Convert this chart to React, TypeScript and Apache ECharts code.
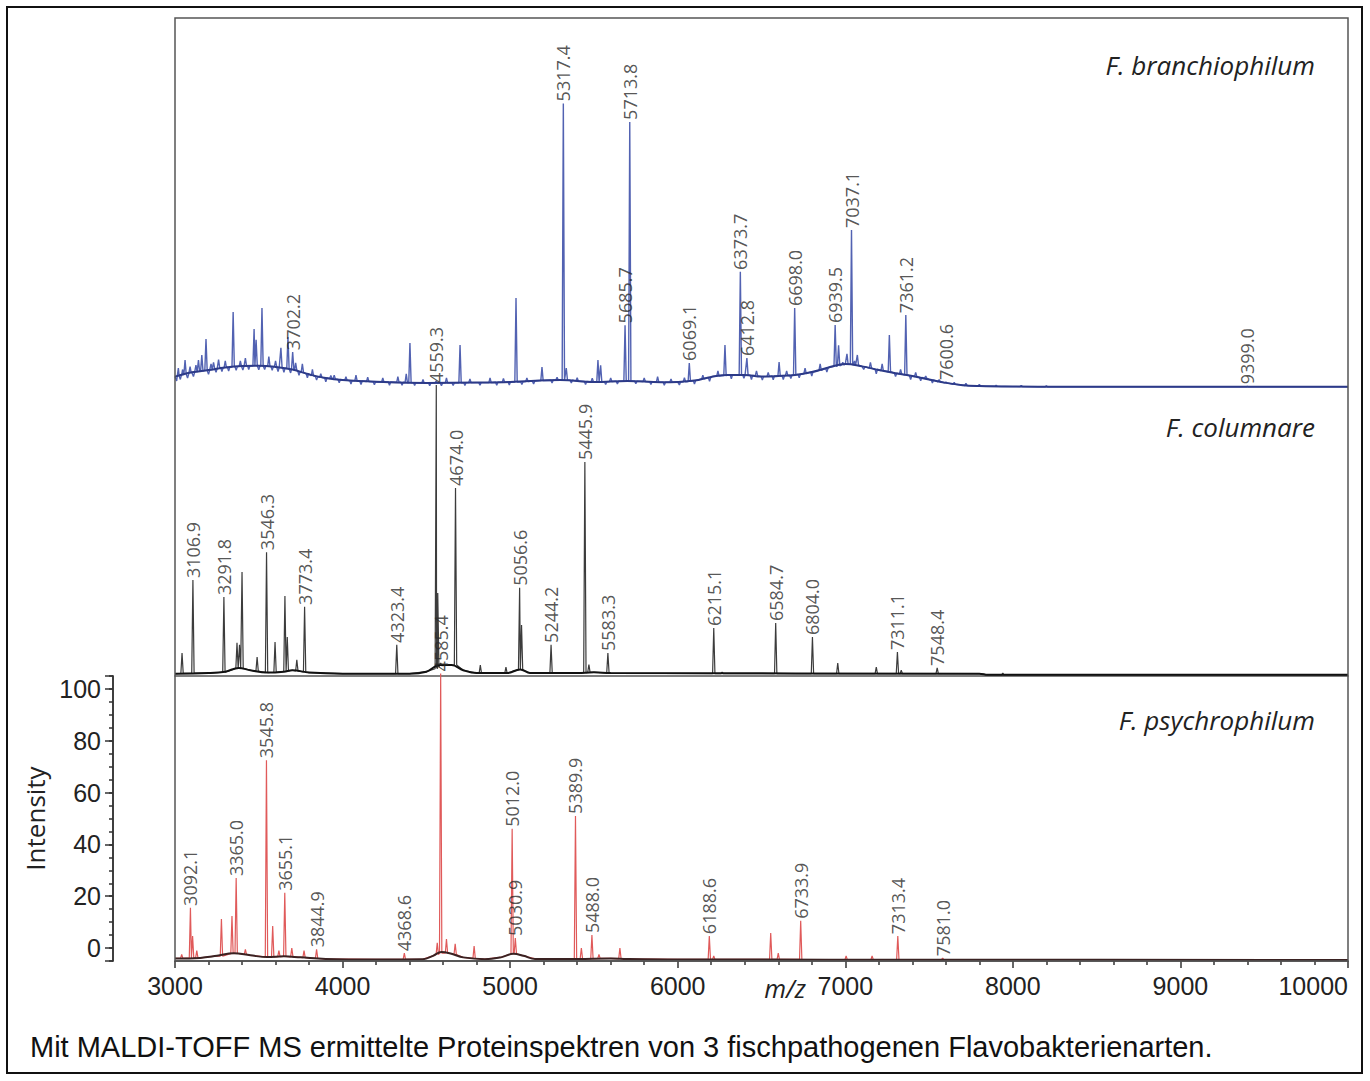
import React, { useEffect, useRef } from "react";
import * as echarts from "echarts";

const X_MIN = 3000;
const X_MAX = 10000;
const X_INTERVAL = 1000;
const Y_TICK_LABELS = [0, 20, 40, 60, 80, 100];
const Y_MAJOR_TICKS = [-5, 0, 20, 40, 60, 80, 100, 105];

const SPECIES = ["F. branchiophilum", "F. columnare", "F. psychrophilum"];
const CAPTION =
  "Mit MALDI-TOFF MS ermittelte Proteinspektren von 3 fischpathogenen Flavobakterienarten.";

// ---------- F. branchiophilum (top, blue) ----------
// smoothed baseline [m/z, level]
const BRANCH_BASE: [number, number][] = [
  [3000, 4.0], [3100, 5.5], [3200, 6.3], [3300, 7.2], [3400, 7.7], [3500, 7.8],
  [3600, 7.4], [3700, 6.5], [3800, 4.8], [3900, 3.5], [4000, 2.8], [4200, 2.2],
  [4500, 1.8], [4800, 1.9], [5000, 2.1], [5300, 2.8], [5500, 2.1], [5700, 2.5],
  [5900, 2.0], [6000, 2.1], [6100, 2.6], [6200, 3.9], [6300, 4.6], [6400, 4.6],
  [6500, 4.0], [6600, 4.2], [6700, 4.6], [6800, 5.6], [6900, 7.2], [7000, 8.4],
  [7100, 7.6], [7200, 6.3], [7300, 5.2], [7400, 4.2], [7500, 3.0], [7600, 1.8],
  [7700, 1.0], [7800, 0.7], [8000, 0.5], [8300, 0.4], [10000, 0.4],
];
// peaks and dips of the raw trace [m/z, top, foot]
const BRANCH_PEAKS: [number, number, number][] = [
  [3010, 2.5, 4], [3020, 7, 4], [3032, 3, 4.2], [3045, 6.5, 4.5], [3060, 9.8, 4.8], [3075, 3.5, 5],
  [3090, 7.5, 5.2], [3110, 4, 5.5], [3125, 8, 5.6], [3140, 9.8, 5.8], [3160, 11.6, 6],
  [3185, 17.2, 6.2], [3200, 4.8, 6.3], [3215, 8.5, 6.5], [3230, 9, 6.8], [3245, 5.5, 6.9],
  [3260, 10, 7], [3280, 5.8, 7.1], [3300, 9.5, 7.2], [3320, 6, 7.3], [3347, 26.7, 7.4],
  [3365, 6.2, 7.5], [3390, 9.5, 7.6], [3405, 6.3, 7.7], [3420, 10.5, 7.7], [3440, 6.5, 7.8],
  [3472, 20.7, 7.8], [3484, 16.9, 7.8], [3500, 6.4, 7.8], [3519, 28.1, 7.8], [3535, 6.5, 7.7],
  [3560, 11, 7.6], [3580, 6.2, 7.5], [3600, 9.5, 7.4], [3615, 5.8, 7.3], [3632, 14.1, 7.2],
  [3650, 5.5, 7], [3674, 17.9, 6.8], [3690, 5.3, 6.7], [3702.2, 12.6, 6.6], [3720, 8.8, 6.2],
  [3740, 4.5, 5.9], [3760, 8.5, 5.5], [3790, 3.6, 5], [3820, 6.5, 4.3], [3845, 2.8, 4],
  [3870, 5, 3.7], [3900, 2.2, 3.5], [3930, 4.4, 3.3], [3950, 4.5, 3.2], [3980, 1.8, 3],
  [4020, 4, 2.7], [4050, 1.4, 2.6], [4080, 4.5, 2.5], [4110, 1.2, 2.4], [4150, 3.8, 2.3],
  [4190, 1.1, 2.2], [4240, 3.5, 2.1], [4280, 1, 2.1], [4330, 4, 2], [4355, 1, 2],
  [4380, 5, 1.9], [4402, 15.8, 1.9], [4430, 0.9, 1.9], [4480, 3, 1.8], [4520, 0.8, 1.8],
  [4559, 2.5, 1.8], [4590, 0.8, 1.8], [4620, 3.5, 1.8], [4660, 0.9, 1.8], [4701, 15.1, 1.8],
  [4730, 0.9, 1.9], [4760, 3.2, 1.9], [4820, 1, 1.9], [4880, 3.5, 1.9], [4920, 1, 2],
  [4960, 3.4, 2], [4995, 1.1, 2.1], [5035, 31.6, 2.1], [5070, 1.2, 2.2], [5100, 3.5, 2.3],
  [5140, 1.4, 2.4], [5190, 7.4, 2.6], [5250, 1.8, 2.7], [5280, 3.8, 2.8], [5317.4, 100, 2.8],
  [5335, 7, 2.8], [5365, 1.8, 2.7], [5400, 3.6, 2.5], [5450, 1.2, 2.3], [5490, 3.4, 2.2],
  [5524, 9.8, 2.2], [5540, 8, 2.2], [5570, 1.2, 2.2], [5600, 3.5, 2.3], [5640, 1.4, 2.4],
  [5685.7, 22, 2.5], [5713.8, 93.5, 2.5], [5750, 1.5, 2.4], [5800, 3.5, 2.3], [5840, 1.2, 2.2],
  [5880, 4, 2.1], [5920, 1, 2], [5960, 3.2, 2.0], [6010, 1.1, 2.1], [6040, 3.6, 2.2],
  [6069.1, 8.8, 2.3], [6100, 1.4, 2.6], [6150, 4.5, 3.2], [6190, 2.4, 3.7], [6240, 6, 4.2],
  [6282, 15.1, 4.4], [6320, 3.2, 4.6], [6373.7, 40.8, 4.6], [6395, 3.4, 4.6], [6412.8, 10.5, 4.6],
  [6440, 3, 4.4], [6470, 6, 4.3], [6505, 2.8, 4], [6540, 5.5, 4.1], [6570, 2.9, 4.2],
  [6605, 9.1, 4.2], [6630, 3, 4.3], [6650, 6, 4.4], [6675, 3.3, 4.5], [6698.0, 28.1, 4.6],
  [6725, 3.6, 4.8], [6760, 7, 5.1], [6800, 4.2, 5.6], [6850, 8.5, 6.2], [6890, 5.6, 6.9],
  [6939.5, 22.1, 7.6], [6960, 15, 7.8], [6985, 9, 8.1], [7010, 12, 8.3], [7037.1, 55.5, 8.3],
  [7055, 9.5, 8.1], [7072, 11.6, 8], [7110, 6.5, 7.5], [7150, 9, 7], [7185, 5, 6.6],
  [7220, 8.5, 6.1], [7263, 18.6, 5.7], [7300, 4, 5.2], [7330, 6.5, 4.9], [7361.2, 25.6, 4.6],
  [7390, 3, 4.3], [7420, 5.5, 4], [7450, 2.5, 3.7], [7480, 4.2, 3.4], [7520, 1.8, 2.8],
  [7560, 3, 2.2], [7600.6, 2.1, 1.8], [7650, 2, 1.3], [7720, 1.6, 0.9], [7800, 1.3, 0.7],
  [7900, 1.0, 0.6], [8050, 0.9, 0.5], [8200, 0.8, 0.45], [9399.0, 0.6, 0.4],
];
const BRANCH_LABELS = [
  3702.2, 5317.4, 5685.7, 5713.8, 6069.1, 6373.7, 6412.8, 6698.0, 6939.5, 7037.1,
  7361.2, 7600.6, 9399.0,
];

// ---------- F. columnare (middle, black) ----------
const COLUM_BASE: [number, number][] = [
  [3000, 0.8], [3200, 1], [3300, 1.5], [3380, 2.8], [3450, 2], [3550, 1.2], [3650, 1.5],
  [3700, 2], [3800, 1.2], [4000, 0.8], [4400, 0.8], [4500, 1.5], [4580, 3.8], [4650, 3.8],
  [4720, 2], [4800, 1], [4980, 1], [5060, 2.3], [5120, 1], [5400, 1], [5500, 1.3],
  [5600, 1], [7800, 0.8], [7850, 0.4], [10000, 0.4],
];
const COLUM_PEAKS: [number, number, number][] = [
  [3042, 8, 0.9], [3106.9, 33.3, 1], [3291.8, 27.4, 1.3], [3370, 11.5, 2.6], [3385, 10.8, 2.8],
  [3400, 36.1, 2.7], [3490, 6.6, 1.7], [3546.3, 43, 1.2], [3597, 11.8, 1.3], [3656, 27.8, 1.6],
  [3670, 13.5, 1.8], [3727, 5.6, 1.8], [3773.4, 24, 1.4], [4323.4, 10.8, 0.8],
  [4559.3, 101, 2.5], [4568, 28.8, 3], [4585.4, 4.5, 3.6], [4674.0, 65.3, 3.8], [4822, 3.8, 1],
  [4975, 3.1, 1], [5056.6, 30.6, 2.2], [5068, 17.7, 2.2], [5244.2, 10.8, 1], [5445.9, 74.3, 1.2],
  [5470, 4, 1.3], [5583.3, 8, 1.1], [6215.1, 16.7, 0.8], [6265, 1.4, 0.8], [6584.7, 18.4, 0.8],
  [6804.0, 13.5, 0.8], [6955, 4.5, 0.8], [7185, 3.1, 0.8], [7311.1, 8.3, 0.8], [7334, 2, 0.8],
  [7548.4, 2.8, 0.8], [7940, 1, 0.4],
];
const COLUM_LABELS = [
  3106.9, 3291.8, 3546.3, 3773.4, 4323.4, 4559.3, 4674.0, 5056.6, 5244.2, 5445.9, 5583.3,
  6215.1, 6584.7, 6804.0, 7311.1, 7548.4,
];

// ---------- F. psychrophilum (bottom, red) ----------
const PSYCH_BASE: [number, number][] = [
  [3000, -4], [3150, -3.8], [3250, -3], [3350, -2], [3450, -2.8], [3550, -3.5], [3650, -3.2],
  [3750, -3.6], [3900, -4.2], [4200, -4.4], [4480, -4.3], [4540, -3], [4590, -1.5],
  [4650, -2.2], [4720, -3.6], [4850, -4.3], [4950, -3.5], [5020, -2.2], [5080, -3],
  [5150, -4.2], [5400, -4.2], [5600, -4], [5700, -4.2], [6000, -4.4], [7800, -4.5],
  [10000, -4.6],
];
const PSYCH_PEAKS: [number, number, number][] = [
  [3040, -2.5, -4], [3092.1, 15.5, -3.8], [3105, 4.6, -3.8], [3130, -1, -3.8], [3277, 11.2, -3.1],
  [3340, 12.4, -2.2], [3365.0, 27, -2], [3420, -0.5, -2.5], [3545.8, 72.5, -3.4], [3583, 8.5, -3.4],
  [3620, -1, -3.3], [3655.1, 21.3, -3.2], [3697, 0, -3.4], [3770, -1, -3.7], [3844.9, -0.5, -4],
  [4368.6, -2, -4.4], [4565, 2, -2.5], [4585.4, 106, -2], [4620, 3.5, -2], [4672, 1.6, -2.5],
  [4785, 0.8, -4], [5012.0, 46, -2.2], [5030.9, 3.9, -2.2], [5389.9, 51, -4.2], [5425, 0, -4.1],
  [5488.0, 5, -4.1], [5530, -2.5, -4], [5655, 0, -4.1], [6188.6, 4.6, -4.4], [6215, -3, -4.4],
  [6555, 5.8, -4.4], [6600, -2, -4.4], [6733.9, 10.5, -4.4], [7005, -3, -4.5], [7160, -3, -4.5],
  [7313.4, 4.6, -4.5], [7581.0, -3.9, -4.5],
];
const PSYCH_LABELS = [
  3092.1, 3365.0, 3545.8, 3655.1, 3844.9, 4368.6, 4585.4, 5012.0, 5030.9, 5389.9, 5488.0,
  6188.6, 6733.9, 7313.4, 7581.0,
];

const HALF_WIDTH = 7;

function buildTrace(base: [number, number][], peaks: [number, number, number][]) {
  const pts: [number, number][] = base.filter(
    (b) => !peaks.some((p) => Math.abs(p[0] - b[0]) <= HALF_WIDTH)
  );
  for (const [mz, top, foot] of peaks) {
    pts.push([mz - HALF_WIDTH, foot], [mz, top], [mz + HALF_WIDTH, foot]);
  }
  pts.sort((a, b) => a[0] - b[0]);
  return pts;
}

function labelPoints(labels: number[], peaks: [number, number, number][]) {
  return labels.map((mz) => {
    const p = peaks.find((q) => Math.abs(q[0] - mz) < 0.01);
    return [mz, p ? p[1] : 0];
  });
}

const LABEL_FONT = "'Open Sans', 'DejaVu Sans', sans-serif";
const AXIS_FONT = "'Liberation Sans', Arial, sans-serif";

function panelSeries(
  idx: number,
  base: [number, number][],
  peaks: [number, number, number][],
  labels: number[],
  rawColor: string,
  rawWidth: number,
  smoothColor: string
) {
  return [
    {
      type: "line",
      xAxisIndex: idx,
      yAxisIndex: idx,
      data: buildTrace(base, peaks),
      symbol: "none",
      clip: false,
      lineStyle: { color: rawColor, width: rawWidth },
      z: 2,
    },
    {
      type: "line",
      xAxisIndex: idx,
      yAxisIndex: idx,
      data: base,
      smooth: 0.4,
      symbol: "none",
      clip: false,
      lineStyle: { color: smoothColor, width: 2 },
      z: 3,
    },
    {
      type: "scatter",
      xAxisIndex: idx,
      yAxisIndex: idx,
      data: labelPoints(labels, peaks),
      symbolSize: 0,
      clip: false,
      z: 5,
      label: {
        show: true,
        position: "top",
        distance: 2,
        rotate: 90,
        align: "left",
        verticalAlign: "middle",
        fontFamily: LABEL_FONT,
        fontSize: 18,
        color: "#2a2a2a",
        formatter: (p: any) => Number(p.value[0]).toFixed(1),
      },
    },
  ];
}

export default function App() {
  const ref = useRef<HTMLDivElement>(null);
  useEffect(() => {
    document.body.style.margin = "0";
    const chart = echarts.init(ref.current!, undefined, { renderer: "svg" });
    const axisLineStyle = { color: "#333", width: 1.5 };
    const option: any = {
      animation: false,
      backgroundColor: "#ffffff",
      grid: [
        { left: 175, top: 18, width: 1173, height: 370 },
        { left: 175, top: 388, width: 1173, height: 288 },
        { left: 175, top: 676, width: 1173, height: 285 },
      ],
      xAxis: [
        { type: "value", gridIndex: 0, min: X_MIN, max: X_MAX, show: false },
        {
          type: "value",
          gridIndex: 1,
          min: X_MIN,
          max: X_MAX,
          axisLine: { show: true, onZero: false, lineStyle: { color: "#555", width: 1.5 } },
          axisTick: { show: false },
          axisLabel: { show: false },
          splitLine: { show: false },
        },
        {
          type: "value",
          gridIndex: 2,
          min: X_MIN,
          max: X_MAX,
          interval: X_INTERVAL,
          axisLine: { show: true, onZero: false, lineStyle: axisLineStyle },
          axisTick: { show: true, length: 7, lineStyle: axisLineStyle },
          minorTick: { show: true, splitNumber: 5, length: 4, lineStyle: axisLineStyle },
          axisLabel: {
            fontSize: 25,
            color: "#222",
            fontFamily: AXIS_FONT,
            margin: 12,
            alignMaxLabel: "right",
            formatter: (v: number) => String(v),
          },
          splitLine: { show: false },
          minorSplitLine: { show: false },
        },
      ],
      yAxis: [
        { type: "value", gridIndex: 0, min: 0, max: 130, show: false },
        { type: "value", gridIndex: 1, min: 0, max: 100, show: false },
        {
          type: "value",
          gridIndex: 2,
          min: -5,
          max: 105,
          interval: 5,
          position: "left",
          offset: 62,
          axisLine: { show: true, lineStyle: axisLineStyle },
          axisTick: { show: true, length: 4, lineStyle: axisLineStyle },
          axisLabel: { show: false },
          splitLine: { show: false },
        },
        {
          type: "value",
          gridIndex: 2,
          min: -5,
          max: 105,
          interval: 5,
          position: "left",
          offset: 62,
          axisLine: { show: true, lineStyle: axisLineStyle },
          axisTick: { show: true, length: 8, customValues: Y_MAJOR_TICKS, lineStyle: axisLineStyle },
          axisLabel: {
            customValues: Y_TICK_LABELS,
            fontSize: 25,
            color: "#222",
            fontFamily: AXIS_FONT,
            margin: 12,
          },
          splitLine: { show: false },
          name: "Intensity",
          nameLocation: "middle",
          nameGap: 58,
          nameRotate: 90,
          nameTextStyle: { fontSize: 26, color: "#222", fontFamily: LABEL_FONT },
        },
      ],
      series: [
        ...panelSeries(0, BRANCH_BASE, BRANCH_PEAKS, BRANCH_LABELS, "#5262b2", 1.4, "#2c3a88"),
        ...panelSeries(1, COLUM_BASE, COLUM_PEAKS, COLUM_LABELS, "#3c3c3c", 1.2, "#111111"),
        ...panelSeries(2, PSYCH_BASE, PSYCH_PEAKS, PSYCH_LABELS, "#e05a5a", 1.2, "#3a2222"),
      ],
      graphic: [
        {
          type: "rect",
          shape: { x: 7, y: 7, width: 1355, height: 1066 },
          style: { fill: "none", stroke: "#111", lineWidth: 2 },
          z: 10,
        },
        {
          type: "rect",
          shape: { x: 175, y: 18, width: 1173, height: 943 },
          style: { fill: "none", stroke: "#555", lineWidth: 1.5 },
          z: 10,
        },
        {
          type: "text",
          x: 1315,
          y: 65,
          style: {
            text: SPECIES[0],
            align: "right",
            verticalAlign: "middle",
            font: "italic 26px 'Open Sans', sans-serif",
            fill: "#222",
          },
          z: 10,
        },
        {
          type: "text",
          x: 1315,
          y: 427,
          style: {
            text: SPECIES[1],
            align: "right",
            verticalAlign: "middle",
            font: "italic 26px 'Open Sans', sans-serif",
            fill: "#222",
          },
          z: 10,
        },
        {
          type: "text",
          x: 1315,
          y: 720,
          style: {
            text: SPECIES[2],
            align: "right",
            verticalAlign: "middle",
            font: "italic 26px 'Open Sans', sans-serif",
            fill: "#222",
          },
          z: 10,
        },
        {
          type: "text",
          x: 785,
          y: 988,
          style: {
            text: "m/z",
            align: "center",
            verticalAlign: "middle",
            font: "italic 25px 'Open Sans', sans-serif",
            fill: "#222",
          },
          z: 10,
        },
        {
          type: "text",
          x: 30,
          y: 1047,
          style: {
            text: CAPTION,
            align: "left",
            verticalAlign: "middle",
            font: "29px 'Liberation Sans', Arial, sans-serif",
            fill: "#111",
          },
          z: 10,
        },
      ],
    };
    chart.setOption(option);
    return () => chart.dispose();
  }, []);
  return <div ref={ref} style={{ width: 1370, height: 1081 }} />;
}
